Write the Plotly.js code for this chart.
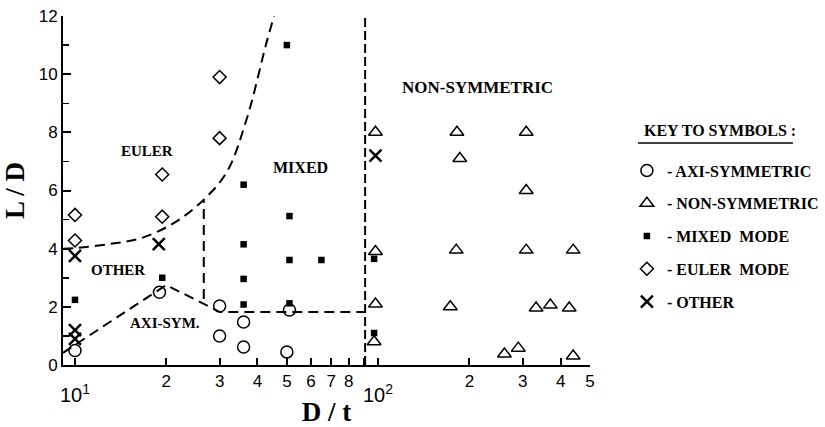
<!DOCTYPE html>
<html>
<head>
<meta charset="utf-8">
<script src="https://cdn.plot.ly/plotly-3.0.1.min.js"></script>
<style>html,body{margin:0;padding:0;background:#fff;}#chart{width:825px;height:427px;}</style>
</head>
<body>
<div id="chart"></div>
<script>
// ---- data ----
const axiX = [10, 19, 30, 30, 36, 36, 51, 50];
const axiY = [0.5, 2.5, 2.03, 1.0, 1.48, 0.62, 1.89, 0.45];

const nonX = [98, 98, 98, 97, 182, 186, 181, 173, 308, 308, 308, 440, 332, 370, 427, 261, 290, 440];
const nonY = [8.0, 3.9, 2.1, 0.8, 8.0, 7.1, 3.95, 2.0, 8.0, 6.0, 3.95, 3.95, 1.96, 2.06, 1.96, 0.38, 0.58, 0.31];

const mixX = [10, 19.4, 36, 36, 36, 36, 50, 51, 51, 51, 65, 97, 97];
const mixY = [2.24, 3.0, 6.2, 4.15, 2.96, 2.08, 11.0, 5.12, 3.61, 2.12, 3.61, 3.65, 1.1];

const eulX = [10, 10, 19.4, 19.4, 30, 30];
const eulY = [5.16, 4.28, 6.55, 5.1, 9.9, 7.8];

const othX = [10, 10, 10, 18.9, 98];
const othY = [3.75, 1.2, 0.9, 4.16, 7.2];

// boundary lines
const upperX = [9.13, 10, 13, 16.4, 21.1, 26.5, 31.7, 36.9, 42.9, 45.4];
const upperY = [4.0, 4.02, 4.16, 4.35, 4.87, 5.67, 6.64, 8.48, 11.11, 12];
const splitX = [26.6, 26.6];
const splitY = [2.27, 5.67];
const lowerX = [9.13, 20, 30.1, 90.6];
const lowerY = [0.42, 2.75, 1.82, 1.82];
const vertX = [90.6, 90.6];
const vertY = [0, 12];

// axis ticks
const xTickVals = [10, 20, 30, 40, 50, 60, 70, 80, 90, 100, 200, 300, 400, 500];
const xTickText = ['', '2', '3', '4', '5', '6', '7', '8', '', '', '2', '3', '4', '5'];
const decadeVals = [10, 100];
const decadeText = ['10<sup>1</sup>', '10<sup>2</sup>'];

// region labels
const regionText = ['EULER', 'MIXED', 'OTHER', 'AXI-SYM.', 'NON-SYMMETRIC'];
const regionX = [17.3, 55.3, 13.9, 19.8, 212];
const regionY = [7.35, 6.8, 3.26, 1.44, 9.55];
const regionSize = [15, 16, 15, 15, 17];

const legendNames = ['- AXI-SYMMETRIC', '- NON-SYMMETRIC', '- MIXED  MODE', '- EULER  MODE', '- OTHER'];

const serif = 'Liberation Serif, Times New Roman, serif';
const sans = 'Liberation Sans, Arial, sans-serif';

function lineTrace(x, y, dash, shape) {
  return {x: x, y: y, mode: 'lines', showlegend: false, hoverinfo: 'skip',
    line: {color: '#000', width: 2, dash: dash, shape: shape || 'linear'}};
}

const traces = [
  lineTrace(upperX, upperY, '10px,6px', 'spline'),
  lineTrace(splitX, splitY, '10px,6px'),
  lineTrace(lowerX, lowerY, '10px,6px'),
  lineTrace(vertX, vertY, '9px,4px'),
  {x: axiX, y: axiY, mode: 'markers', name: legendNames[0], legendgroup: 'a',
   marker: {symbol: 'circle-open', size: 12, color: '#000', line: {width: 1.5, color: '#000'}}},
  {x: nonX, y: nonY, mode: 'markers', name: legendNames[1], legendgroup: 'b',
   marker: {symbol: 'triangle-up-open', size: 12, color: '#000', line: {width: 1.5, color: '#000'}}},
  {x: mixX, y: mixY, mode: 'markers', name: legendNames[2], legendgroup: 'c',
   marker: {symbol: 'square', size: 6.5, color: '#000'}},
  {x: eulX, y: eulY, mode: 'markers', name: legendNames[3], legendgroup: 'd',
   marker: {symbol: 'diamond-open', size: 10, color: '#000', line: {width: 1.5, color: '#000'}}},
  {x: othX, y: othY, mode: 'markers', name: legendNames[4], legendgroup: 'e',
   marker: {symbol: 'x-thin-open', size: 12, color: '#000', line: {width: 2.5, color: '#000'}}}
];

const annotations = [];
for (let i = 0; i < regionText.length; i++) {
  annotations.push({x: Math.log10(regionX[i]), y: regionY[i], xref: 'x', yref: 'y',
    xanchor: 'center', yanchor: 'middle',
    text: '<b>' + regionText[i] + '</b>', showarrow: false,
    font: {family: serif, size: regionSize[i], color: '#000'}});
}
for (let i = 0; i < decadeVals.length; i++) {
  annotations.push({x: Math.log10(decadeVals[i]), y: 0, xref: 'x', yref: 'paper',
    xanchor: 'center', yanchor: 'top', yshift: -14, text: decadeText[i], showarrow: false,
    font: {family: sans, size: 20, color: '#000'}});
}
annotations.push({x: 1.247, y: 0.673, xref: 'paper', yref: 'paper',
  xanchor: 'center', yanchor: 'middle',
  text: '<b>KEY TO SYMBOLS :</b>', showarrow: false,
  font: {family: serif, size: 16, color: '#000'}});

const layout = {
  width: 825, height: 427,
  margin: {l: 63, r: 235, t: 16, b: 62, autoexpand: false},
  paper_bgcolor: '#fff', plot_bgcolor: '#fff',
  showlegend: true,
  legend: {x: 1.07, y: 0.606, xanchor: 'left', yanchor: 'top',
    font: {family: serif, size: 16, color: '#000', weight: 'bold'},
    tracegroupgap: 9, bgcolor: 'rgba(0,0,0,0)', itemclick: false},
  xaxis: {
    type: 'log', range: [Math.log10(9.13), Math.log10(500)],
    showgrid: false, zeroline: false, automargin: false,
    showline: true, linecolor: '#000', linewidth: 2,
    ticks: 'inside', ticklen: 7, tickwidth: 2, tickcolor: '#000',
    tickmode: 'array', tickvals: xTickVals, ticktext: xTickText,
    tickfont: {family: sans, size: 17, color: '#000'},
    title: {text: '<b>D / t</b>', font: {family: serif, size: 27, color: '#000'}, standoff: 20}
  },
  yaxis: {
    range: [0, 12], showgrid: false, zeroline: false, automargin: false,
    showline: true, linecolor: '#000', linewidth: 2,
    ticks: 'inside', ticklen: 8, tickwidth: 2, tickcolor: '#000',
    dtick: 2, tick0: 0,
    minor: {dtick: 1, tick0: 0, ticks: 'inside', ticklen: 6, tickwidth: 1.5, tickcolor: '#000', showgrid: false},
    tickfont: {family: sans, size: 17, color: '#000'},
    title: {text: '<b>L / D</b>', font: {family: serif, size: 27, color: '#000'}, standoff: 8}
  },
  annotations: annotations,
  shapes: [{type: 'line', xref: 'paper', yref: 'paper', x0: 1.091, x1: 1.385, y0: 0.636, y1: 0.636,
    line: {color: '#000', width: 1.5}}]
};

Plotly.newPlot('chart', traces, layout, {displayModeBar: false, staticPlot: true});
</script>
</body>
</html>
